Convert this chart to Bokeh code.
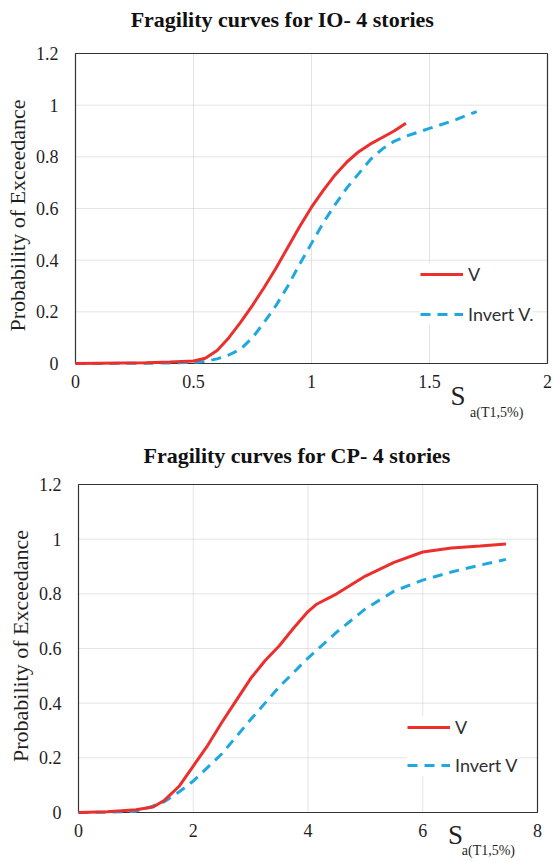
from bokeh.plotting import figure
from bokeh.models import Range1d, FixedTicker, Legend, LegendItem, Label
from bokeh.layouts import column
from bokeh.embed import file_html
from bokeh.resources import INLINE

# ---------------- data ----------------
io_title = "Fragility curves for IO- 4 stories"
cp_title = "Fragility curves for CP- 4 stories"
y_label = "Probability of Exceedance"
x_label_main = "S"
x_label_sub = "a(T1,5%)"
series_names = ["V", "Invert V.", "Invert V"]

io_v_x = [0, 0.1, 0.2, 0.3, 0.4, 0.5, 0.55, 0.6, 0.65, 0.7, 0.75, 0.8, 0.85, 0.9, 0.95, 1.0, 1.05, 1.1, 1.15, 1.2, 1.25, 1.3, 1.35, 1.4]
io_v_y = [0, 0.001, 0.002, 0.003, 0.006, 0.01, 0.02, 0.05, 0.1, 0.16, 0.225, 0.295, 0.37, 0.45, 0.53, 0.605, 0.67, 0.73, 0.78, 0.82, 0.85, 0.875, 0.9, 0.93]

io_inv_x = [0, 0.1, 0.2, 0.3, 0.4, 0.5, 0.55, 0.6, 0.65, 0.7, 0.75, 0.8, 0.85, 0.9, 0.95, 1.0, 1.05, 1.1, 1.15, 1.2, 1.25, 1.3, 1.35, 1.4, 1.5, 1.6, 1.7]
io_inv_y = [0, 0, 0.001, 0.001, 0.002, 0.004, 0.008, 0.018, 0.033, 0.056, 0.1, 0.16, 0.225, 0.3, 0.385, 0.465, 0.545, 0.615, 0.68, 0.735, 0.79, 0.83, 0.86, 0.88, 0.91, 0.94, 0.975]

cp_v_x = [0, 0.5, 1.0, 1.3, 1.5, 1.75, 2.0, 2.25, 2.5, 2.75, 3.0, 3.25, 3.5, 3.75, 4.0, 4.15, 4.5, 5.0, 5.5, 6.0, 6.5, 7.0, 7.45]
cp_v_y = [0, 0.003, 0.01, 0.02, 0.045, 0.095, 0.17, 0.245, 0.33, 0.41, 0.49, 0.555, 0.61, 0.675, 0.735, 0.762, 0.8, 0.865, 0.915, 0.953, 0.968, 0.975, 0.982]

cp_inv_x = [0, 0.5, 1.0, 1.25, 1.5, 1.75, 2.0, 2.5, 3.0, 3.5, 4.0, 4.5, 5.0, 5.5, 6.0, 6.5, 7.0, 7.45]
cp_inv_y = [0, 0.001, 0.005, 0.02, 0.04, 0.075, 0.115, 0.215, 0.34, 0.46, 0.565, 0.66, 0.745, 0.81, 0.85, 0.88, 0.905, 0.926]

y_ticks = [0, 0.2, 0.4, 0.6, 0.8, 1, 1.2]
y_tick_labels = ["0", "0.2", "0.4", "0.6", "0.8", "1", "1.2"]
io_x_ticks = [0, 0.5, 1, 1.5, 2]
io_x_tick_labels = ["0", "0.5", "1", "1.5", "2"]
cp_x_ticks = [0, 2, 4, 6, 8]
cp_x_tick_labels = ["0", "2", "4", "6", "8"]

RED = "#EC2F2C"
BLUE = "#1FA8E0"
SERIF = "Liberation Serif"
TXT = "#1f1f1f"
GRID = "#c8c8c8"
YMAX = 1.2


def make_chart(title, vx, vy, ix, iy, inv_name, xmax, xticks, xlabels, h,
               xr, yr, title_pos, legend_loc, sa_pos, spacing):
    p = figure(width=555, height=h, output_backend="svg", toolbar_location=None,
               x_range=Range1d(*xr), y_range=Range1d(*yr),
               min_border_left=0, min_border_right=0,
               min_border_top=0, min_border_bottom=0)
    p.outline_line_color = None
    p.background_fill_color = "white"
    p.border_fill_color = "white"
    p.xgrid.visible = False
    p.ygrid.visible = False

    for ax in (p.xaxis[0], p.yaxis[0]):
        ax.axis_line_color = None
        ax.major_tick_line_color = None
        ax.minor_tick_line_color = None
        ax.major_tick_out = 0
        ax.major_tick_in = 0
        ax.major_label_text_font = SERIF
        ax.major_label_text_font_size = "18px"
        ax.major_label_text_color = TXT

    p.yaxis.ticker = FixedTicker(ticks=y_ticks)
    p.yaxis.major_label_overrides = dict(zip(y_ticks, y_tick_labels))
    p.yaxis.major_label_standoff = 17
    p.yaxis.fixed_location = 0
    p.yaxis.axis_label = y_label
    p.yaxis.axis_label_text_font = SERIF
    p.yaxis.axis_label_text_font_size = "22px"
    p.yaxis.axis_label_text_font_style = "normal"
    p.yaxis.axis_label_text_color = TXT
    p.yaxis.axis_label_standoff = 3

    p.xaxis.ticker = FixedTicker(ticks=xticks)
    p.xaxis.major_label_overrides = dict(zip(xticks, xlabels))
    p.xaxis.major_label_standoff = 12
    p.xaxis.fixed_location = 0

    # dotted grid limited to the plot box
    inner_x = xticks[1:-1]
    p.segment(x0=inner_x, y0=[0] * len(inner_x), x1=inner_x, y1=[YMAX] * len(inner_x),
              line_color=GRID, line_dash="1 1", line_width=1)
    inner_y = y_ticks[1:-1]
    p.segment(x0=[0] * len(inner_y), y0=inner_y, x1=[xmax] * len(inner_y), y1=inner_y,
              line_color=GRID, line_dash="1 1", line_width=1)

    # plot-area border
    p.quad(left=[0], right=[xmax], bottom=[0], top=[YMAX], fill_color=None,
           line_color="#333333", line_width=1.2)

    r_inv = p.line(ix, iy, line_color=BLUE, line_width=3, line_dash="10 7")
    r_v = p.line(vx, vy, line_color=RED, line_width=3)

    legend = Legend(items=[LegendItem(label=series_names[0], renderers=[r_v]),
                           LegendItem(label=inv_name, renderers=[r_inv])],
                    location=legend_loc, orientation="vertical",
                    border_line_color=None, background_fill_color="white",
                    background_fill_alpha=1.0, padding=9, spacing=spacing, margin=0,
                    glyph_width=43, glyph_height=22, label_height=22,
                    label_standoff=5, label_text_font="Lato",
                    label_text_font_size="18px", label_text_color="#303030")
    p.add_layout(legend)

    tx, ty = title_pos
    p.add_layout(Label(x=tx, y=ty, text=title, text_font=SERIF,
                       text_font_style="bold", text_font_size="22px",
                       text_align="center", text_baseline="middle",
                       text_color="#111111"))
    sx, sy, bx, by = sa_pos
    p.add_layout(Label(x=sx, y=sy, text=x_label_main, text_font=SERIF,
                       text_font_size="27px", text_baseline="middle",
                       text_color=TXT))
    p.add_layout(Label(x=bx, y=by, text=x_label_sub, text_font=SERIF,
                       text_font_size="14px", text_baseline="middle",
                       text_color=TXT))
    return p


# top chart: box 75..547 px wide (236 px / unit), 53..363 px tall (258.3 px / unit)
p1 = make_chart(io_title, io_v_x, io_v_y, io_inv_x, io_inv_y, series_names[1],
                2, io_x_ticks, io_x_tick_labels, 430,
                (-75 / 236, 2 + 8 / 236), (-67 / 258.33, 1.2 + 53 / 258.33),
                (0.877, 1.332), (420, 105),
                (1.589, -0.124, 1.672, -0.190), 18)
# bottom chart: box 78..537 px (57.375 px / unit), 54..382 px (273.33 px / unit)
p2 = make_chart(cp_title, cp_v_x, cp_v_y, cp_inv_x, cp_inv_y, series_names[2],
                8, cp_x_ticks, cp_x_tick_labels, 431,
                (-78 / 57.375, 8 + 18 / 57.375), (-49 / 273.33, 1.2 + 54 / 273.33),
                (3.81, 1.306), (407, 85),
                (6.44, -0.081, 6.68, -0.138), 16)

layout = column(p1, p2, spacing=0)
open("out.html", "w").write(file_html(layout, INLINE))
